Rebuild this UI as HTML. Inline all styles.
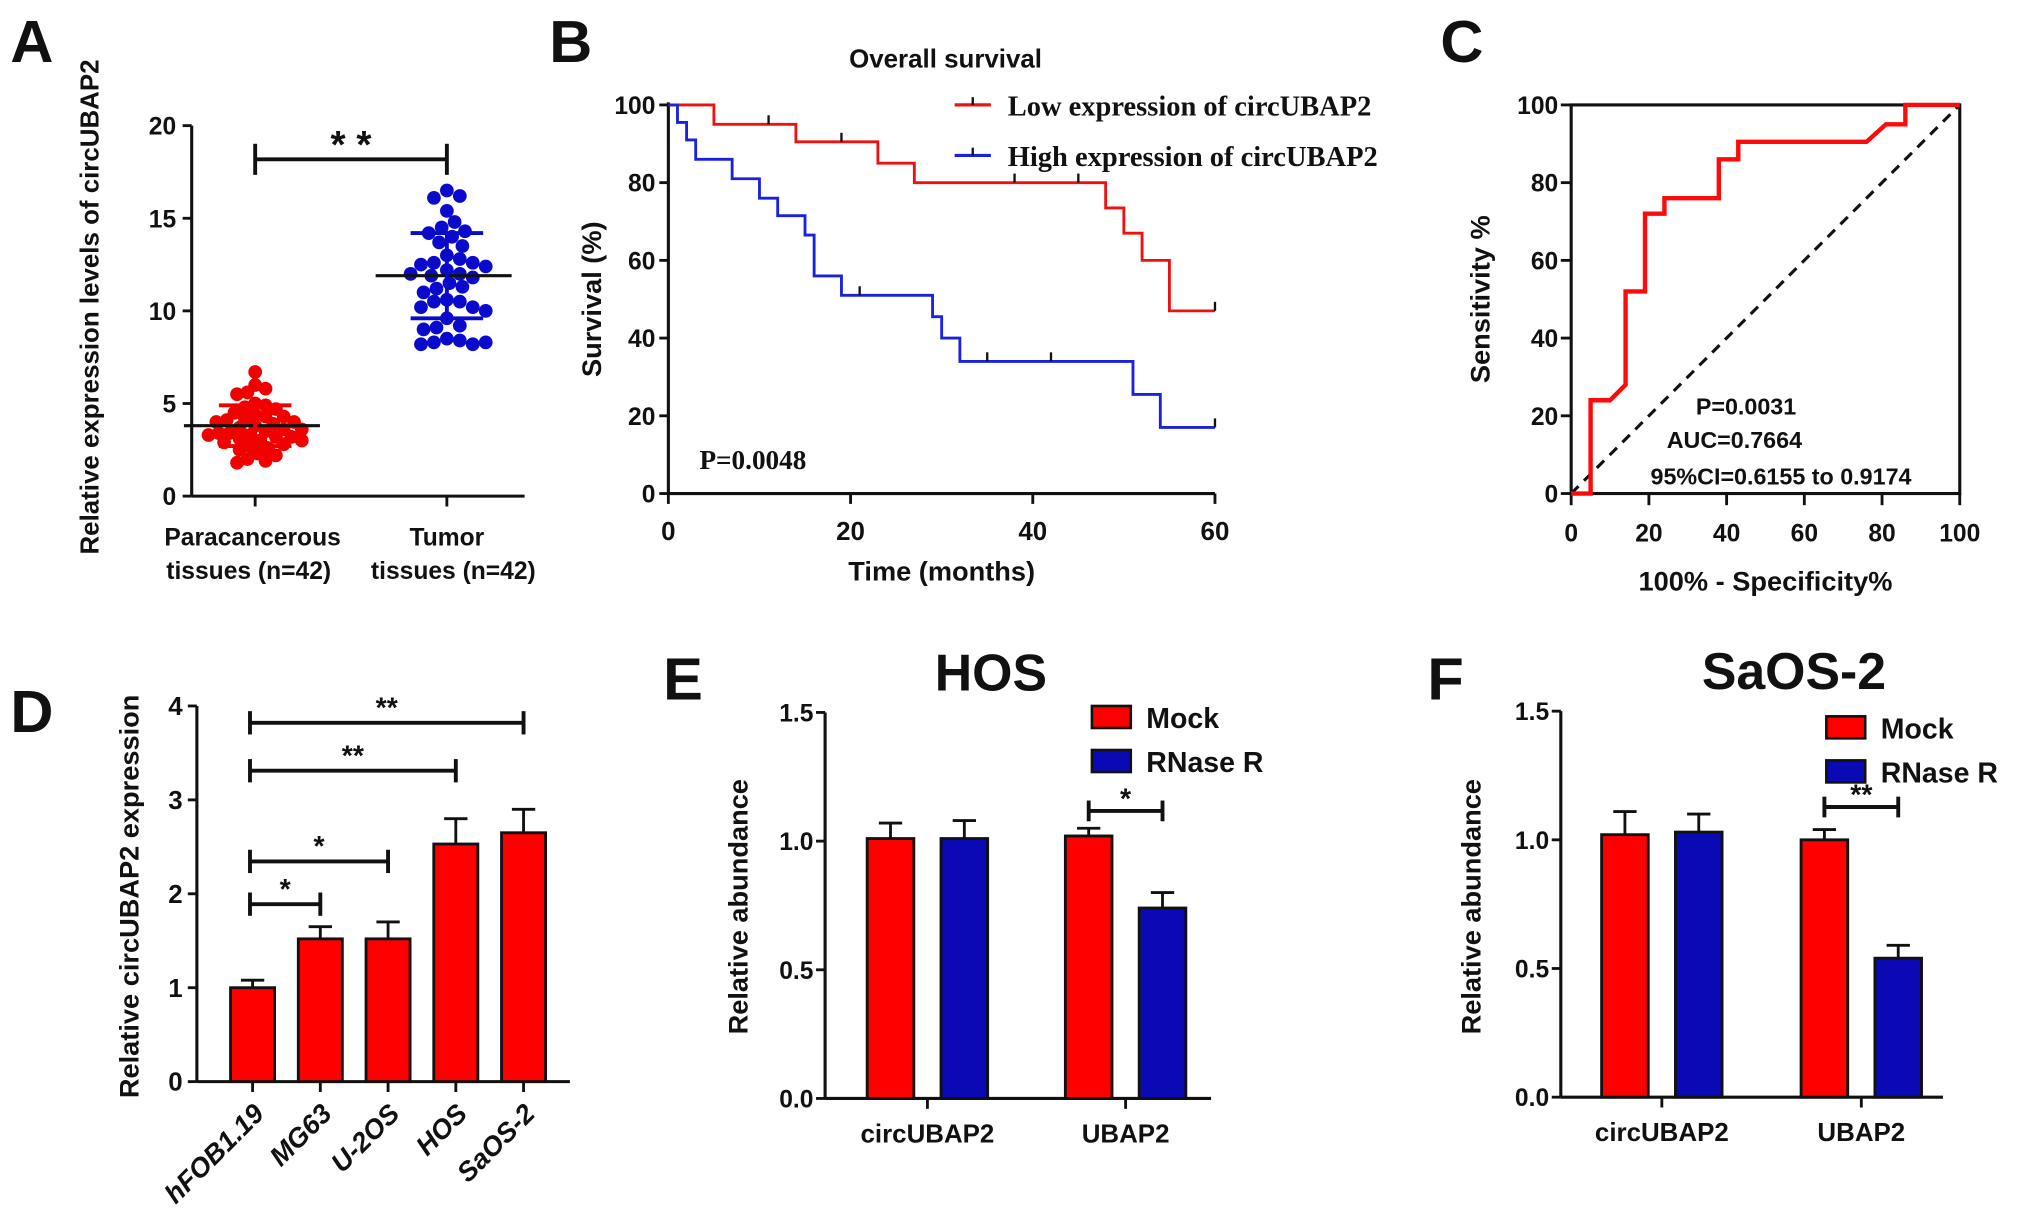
<!DOCTYPE html>
<html><head><meta charset="utf-8"><style>
html,body{margin:0;padding:0;background:#fff;}
svg{display:block;}
text{font-family:"Liberation Sans",Arial,sans-serif;font-weight:bold;fill:#111;}
.n{font-family:"Liberation Sans Narrow","Liberation Sans",sans-serif;}
.s{font-family:"Liberation Serif",serif;}
</style></head><body>
<svg id="fig" xmlns="http://www.w3.org/2000/svg" width="2031" height="1221" viewBox="0 0 1568 942.6" preserveAspectRatio="none"></svg>
<script>
// ---- Panel A data ----
const aCategories = ["Paracancerous", "Tumor"];
const aRed = [6.7,6.0,5.8,5.6,5.5,5.0,4.9,4.8,4.7,4.5,4.4,4.3,4.3,4.2,4.1,4.0,4.0,3.9,3.8,3.7,3.6,3.6,3.5,3.4,3.4,3.3,3.3,3.2,3.2,3.1,3.0,3.0,2.9,2.8,2.7,2.6,2.5,2.3,2.2,2.0,1.9,1.8];
const aBlue = [16.5,16.2,16.1,15.4,14.8,14.5,14.3,14.2,14.0,13.7,13.5,13.0,12.8,12.6,12.6,12.5,12.4,12.2,12.0,12.0,11.9,11.8,11.5,11.3,11.2,11.0,10.6,10.5,10.5,10.2,10.2,10.0,9.6,9.2,9.1,9.0,8.5,8.4,8.3,8.2,8.2,8.3];
const aMean = [3.8, 11.9];
const aSD = [1.1, 2.3];
const aTicks = [0,5,10,15,20];
// ---- Panel B data ----
const bLowT = [0,5,14,23,27,48,50,52,55,60];
const bLowS = [100,95,90.5,85,80,73.5,67,60,47,47];
const bLowCensT = [11,19,38,45,60];
const bLowCensS = [95,90.5,80,80,47];
const bHighT = [0,1,2,3,7,10,12,15,16,19,29,30,32,51,54,60];
const bHighS = [100,95.5,91,86,81,76,71.5,66.5,56,51,45.5,40,34,25.5,17,17];
const bHighCensT = [21,35,42,60];
const bHighCensS = [51,34,34,17];
const bYTicks = [0,20,40,60,80,100];
const bXTicks = [0,20,40,60];
// ---- Panel C data ----
const cFpr = [0,5,5,10,14,14,19,19,24,24,38,38,43,43,76,81,86,86,100];
const cSens = [0,0,24,24,28,52,52,72,72,76,76,86,86,90.5,90.5,95,95,100,100];
const cTicks = [0,20,40,60,80,100];
// ---- Panel D data ----
const dCategories = ["hFOB1.19","MG63","U-2OS","HOS","SaOS-2"];
const dValues = [1.0,1.52,1.52,2.53,2.65];
const dErrors = [0.08,0.13,0.18,0.27,0.25];
const dTicks = [0,1,2,3,4];
// ---- Panel E/F data ----
const efGroups = ["circUBAP2","UBAP2"];
const eMock = [1.01,1.02];
const eRnase = [1.01,0.74];
const eMockErr = [0.06,0.03];
const eRnaseErr = [0.07,0.06];
const fMock = [1.02,1.00];
const fRnase = [1.03,0.54];
const fMockErr = [0.09,0.04];
const fRnaseErr = [0.07,0.05];
const efTicks = [0.0,0.5,1.0,1.5];

const svg = document.getElementById('fig');
const NS = 'http://www.w3.org/2000/svg';
function el(tag, attrs, parent, txt){
  const e = document.createElementNS(NS, tag);
  for (const k in attrs) e.setAttribute(k, attrs[k]);
  if (txt !== undefined) e.textContent = txt;
  (parent || svg).appendChild(e);
  return e;
}
function line(x1,y1,x2,y2,w,c,p){return el('line',{x1,y1,x2,y2,stroke:c||'#111','stroke-width':w||2.2},p);}
function txt(x,y,s,size,anchor,p,cls){return el('text',{x,y,'font-size':size,'text-anchor':anchor||'middle',class:cls||''},p,s);}
function group(name){const g=el('g',{});return g;}

function panelLabel(s,x,y){const t=txt(x,y,s,46,'start');}

// ============ Panel A ============
(function(){
  const g = group('panel-a-scatter');
  const x0=148, x1=405, yTop=97, yBot=383;
  const ys = v => yBot - (v/20)*(yBot-yTop);
  const cx = [197, 345];
  line(x0,yTop,x0,yBot,2.4,'#111',g); line(x0,yBot,x1,yBot,2.4,'#111',g);
  aTicks.forEach(t=>{line(x0-7,ys(t),x0,ys(t),2.2,'#111',g);const tl=txt(x0-12,ys(t)+7,String(t),19,'end',g);});
  cx.forEach(c=>line(c,yBot,c,yBot+8,2.2,'#111',g));
  const yl=el('text',{transform:'translate(76,237) rotate(-90)','font-size':20,'text-anchor':'middle'},g,'Relative expression levels of circUBAP2');
  
  txt(195,421,'Paracancerous',19,'middle',g);txt(192,447,'tissues (n=42)',19,'middle',g);
  txt(345,421,'Tumor',19,'middle',g);txt(350,447,'tissues (n=42)',19,'middle',g);
  const r=5.3;
  function swarm(vals,center,color,name,f){
    const placed=[];
    vals.forEach(v=>{
      const y=ys(v); let best=null;
      for(let k=0;k<60;k++){
        const off=(k%2?1:-1)*Math.ceil(k/2)*2;
        const ok=placed.every(p=>Math.hypot(p[0]-(center+off),p[1]-y)>=2*r*f);
        if(ok){best=center+off;break;}
      }
      if(best===null)best=center;
      placed.push([best,y]);
      const c=el('circle',{cx:best,cy:y,r:r,fill:color},g);
      
      
    });
  }
  swarm(aRed,cx[0],'#f20000','point-paracancerous',0.72);
  swarm(aBlue,cx[1],'#0a0acc','point-tumor',0.95);
  [0,1].forEach(i=>{
    const m=ys(aMean[i]),hi=ys(aMean[i]+aSD[i]),lo=ys(aMean[i]-aSD[i]);
    line(cx[i]-55,m,cx[i]+50,m,2.4,'#111',g);
    line(cx[i],hi,cx[i],lo,3,i?'#0a0acc':'#f20000',g);
    line(cx[i]-28,hi,cx[i]+28,hi,3,i?'#0a0acc':'#f20000',g);
    line(cx[i]-28,lo,cx[i]+28,lo,3,i?'#0a0acc':'#f20000',g);
  });
  line(cx[0],123,cx[1],123,3,'#111',g);line(cx[0],111,cx[0],135,3,'#111',g);line(cx[1],111,cx[1],135,3,'#111',g);
  txt(271,122,'* *',30,'middle',g);
})();
panelLabel('A',8,48);

// ============ Panel B ============
(function(){
  const g=group('panel-b-survival');
  const x0=516,x1=938,yTop=81,yBot=381;
  const xs=t=>x0+t/60*(x1-x0), ys=v=>yBot-v/100*(yBot-yTop);
  line(x0,yTop-2,x0,yBot,2.4,'#111',g);line(x0,yBot,x1,yBot,2.4,'#111',g);
  bYTicks.forEach(t=>{line(x0-7,ys(t),x0,ys(t),2.2,'#111',g);txt(x0-10,ys(t)+7,String(t),19,'end',g,'n');});
  bXTicks.forEach(t=>{line(xs(t),yBot,xs(t),yBot+8,2.2,'#111',g);txt(xs(t),yBot+36,String(t),20,'middle',g,'n');});
  const yl=el('text',{transform:'translate(464,231) rotate(-90)','font-size':21,'text-anchor':'middle'},g,'Survival (%)');
  
  const xl=txt(727,448,'Time (months)',21,'middle',g,'n');
  
  txt(730,52,'Overall survival',20,'middle',g,'n');
  function km(T,S,CT,CS,color,name){
    let d='M'+xs(T[0])+','+ys(S[0]);
    for(let i=1;i<T.length;i++){d+=' H'+xs(T[i])+' V'+ys(S[i]);}
    const p=el('path',{d,fill:'none',stroke:color,'stroke-width':2.2},g);
    
    CT.forEach((t,i)=>line(xs(t),ys(CS[i]),xs(t),ys(CS[i])-7,1.8,'#111',g));
  }
  km(bLowT,bLowS,bLowCensT,bLowCensS,'#ee1111','line-low-expression');
  km(bHighT,bHighS,bHighCensT,bHighCensS,'#1a22dd','line-high-expression');
  const l1=group('legend-entry-low');
  line(737,81,765,81,2.5,'#ee1111',l1);line(751,75,751,81,1.8,'#111',l1);txt(778,89,'Low expression of circUBAP2',22,'start',l1,'s');
  const l2=group('legend-entry-high');
  line(737,120,765,120,2.5,'#1a22dd',l2);line(751,114,751,120,1.8,'#111',l2);txt(778,128,'High expression of circUBAP2',22,'start',l2,'s');
  txt(540,362,'P=0.0048',21,'start',g,'s');
})();
panelLabel('B',424,48);

// ============ Panel C ============
(function(){
  const g=group('panel-c-roc');
  const x0=1213,x1=1513,yTop=81,yBot=381;
  const xs=v=>x0+v/100*(x1-x0), ys=v=>yBot-v/100*(yBot-yTop);
  el('rect',{x:x0,y:yTop,width:x1-x0,height:yBot-yTop,fill:'none',stroke:'#111','stroke-width':2.4},g);
  cTicks.forEach(t=>{line(x0-8,ys(t),x0,ys(t),2.2,'#111',g);txt(x0-10,ys(t)+7,String(t),19,'end',g);
    line(xs(t),yBot,xs(t),yBot+9,2.2,'#111',g);txt(xs(t),yBot+37,String(t),19,'middle',g);});
  line(xs(0),ys(0),xs(100),ys(100),2.4,'#111',g).setAttribute('stroke-dasharray','8,6');
  const pts=cFpr.map((f,i)=>xs(f)+','+ys(cSens[i])).join(' ');
  const pl=el('polyline',{points:pts,fill:'none',stroke:'#ff0a0a','stroke-width':3.4},g);
  
  const yl=el('text',{transform:'translate(1150,231) rotate(-90)','font-size':21,'text-anchor':'middle'},g,'Sensitivity %');
  
  const xl=txt(1363,456,'100% - Specificity%',21,'middle',g);
  
  txt(1348,320,'P=0.0031',18,'middle',g);txt(1339,346,'AUC=0.7664',18,'middle',g);txt(1375,374,'95%CI=0.6155 to 0.9174',18,'middle',g);
})();
panelLabel('C',1112,48);

function barRect(g,x,y,w,h,color,name){
  const r=el('rect',{x,y,width:w,height:h,fill:color,stroke:'#111','stroke-width':2.2},g);
  
}
function errBar(g,cx,yTopv,yVal,half){line(cx,yVal,cx,yTopv,2.2,'#111',g);line(cx-half,yTopv,cx+half,yTopv,2.2,'#111',g);}

// ============ Panel D ============
(function(){
  const g=group('panel-d-bars');
  const x0=152,x1=440,yTop=545,yBot=835;
  const ys=v=>yBot-v/4*(yBot-yTop);
  const step=52.3, first=195, bw=34;
  line(x0,yTop,x0,yBot,2.4,'#111',g);line(x0,yBot,x1,yBot,2.4,'#111',g);
  dTicks.forEach(t=>{line(x0-7,ys(t),x0,ys(t),2.2,'#111',g);txt(x0-11,ys(t)+7,String(t),20,'end',g,'n');});
  dCategories.forEach((c,i)=>{
    const cx=first+i*step;
    errBar(g,cx,ys(dValues[i]+dErrors[i]),ys(dValues[i]),9);
    barRect(g,cx-bw/2,ys(dValues[i]),bw,yBot-ys(dValues[i]),'#ff0000','bar-'+c.toLowerCase());
    line(cx,yBot,cx,yBot+8,2.2,'#111',g);
    el('text',{transform:`translate(${cx+10},${yBot+26}) rotate(-45)`,'font-size':21,'text-anchor':'end','font-style':'italic'},g,c);
  });
  const sig=[[0,1,698,'*'],[0,2,665,'*'],[0,3,595,'**'],[0,4,558,'**']];
  sig.forEach(s=>{const a=first+s[0]*step-2,b=first+s[1]*step;line(a,s[2],b,s[2],3,'#111',g);line(a,s[2]-9,a,s[2]+9,3,'#111',g);line(b,s[2]-9,b,s[2]+9,3,'#111',g);txt((a+b)/2,s[2]-4,s[3],22,'middle',g);});
  const yl=el('text',{transform:'translate(107,692) rotate(-90)','font-size':21,'text-anchor':'middle'},g,'Relative circUBAP2 expression');
  
})();
panelLabel('D',8,565);

// ============ Panel E/F ============
function panelEF(name,x0,x1,yTop,yBot,centers,mock,rnase,mErr,rErr,title,titleX,legX,legY,sig,ylX){
  const g=group(name);
  const ys=v=>yBot-v/1.5*(yBot-yTop);
  const bw=36, gap=57;
  line(x0,yTop,x0,yBot,2.4,'#111',g);line(x0,yBot,x1,yBot,2.4,'#111',g);
  efTicks.forEach(t=>{line(x0-7,ys(t),x0,ys(t),2.2,'#111',g);txt(x0-9,ys(t)+7,t.toFixed(1),19,'end',g,'n');});
  efGroups.forEach((c,i)=>{
    const cm=centers[i]-gap/2, cr=centers[i]+gap/2;
    errBar(g,cm,ys(mock[i]+mErr[i]),ys(mock[i]),9);
    errBar(g,cr,ys(rnase[i]+rErr[i]),ys(rnase[i]),9);
    barRect(g,cm-bw/2,ys(mock[i]),bw,yBot-ys(mock[i]),'#ff0000','bar-mock-'+c.toLowerCase());
    barRect(g,cr-bw/2,ys(rnase[i]),bw,yBot-ys(rnase[i]),'#0a0ab4','bar-rnase-'+c.toLowerCase());
    line(centers[i],yBot,centers[i],yBot+8,2.2,'#111',g);
    txt(centers[i],yBot+34,c,20,'middle',g,'n');
  });
  txt(titleX,yTop-17,title,40,'middle',g);
  const l1=group('legend-entry-mock');g.appendChild(l1);
  el('rect',{x:legX,y:legY,width:30,height:17,fill:'#ff0000',stroke:'#111','stroke-width':2},l1);txt(legX+42,legY+17,'Mock',22,'start',l1,'n');
  const l2=group('legend-entry-rnase-r');g.appendChild(l2);
  el('rect',{x:legX,y:legY+34,width:30,height:17,fill:'#0a0ab4',stroke:'#111','stroke-width':2},l2);txt(legX+42,legY+51,'RNase R',22,'start',l2,'n');
  const a=centers[1]-gap/2,b=centers[1]+gap/2;
  line(a,sig[0],b,sig[0],3,'#111',g);line(a,sig[0]-8,a,sig[0]+8,3,'#111',g);line(b,sig[0]-8,b,sig[0]+8,3,'#111',g);
  txt((a+b)/2,sig[0]-2,sig[1],22,'middle',g);
  const yl=el('text',{transform:`translate(${ylX},700) rotate(-90)`,'font-size':21,'text-anchor':'middle'},g,'Relative abundance');
  
}
panelEF('panel-e-hos',637,935,550,848,[716,869],eMock,eRnase,eMockErr,eRnaseErr,'HOS',765,843,545,[626,'*'],577);
panelEF('panel-f-saos2',1205,1500,549,847,[1283,1437],fMock,fRnase,fMockErr,fRnaseErr,'SaOS-2',1385,1410,553,[623,'**'],1143);
panelLabel('E',512,540);
panelLabel('F',1102,540);
</script>
</body></html>
